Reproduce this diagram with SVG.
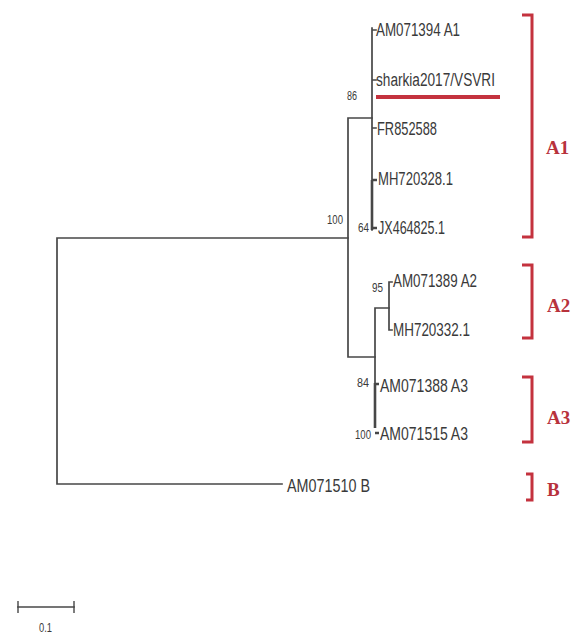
<svg xmlns="http://www.w3.org/2000/svg" width="572" height="636" viewBox="0 0 572 636">
<style>
.br{stroke:#474747;stroke-width:1.7;fill:none;stroke-linecap:square}
.bt{stroke:#474747;stroke-width:2.6;fill:none}
.lb{font-family:"Liberation Sans",Arial,sans-serif;font-size:18px;fill:#3a3a3a}
.bs{font-family:"Liberation Sans",Arial,sans-serif;font-size:13px;fill:#3a3a3a}
.rb{stroke:#c4323e;stroke-width:3;fill:none}
.rl{font-family:"Liberation Serif","Times New Roman",serif;font-size:19px;font-weight:bold;fill:#b8323c}
</style>
<rect width="572" height="636" fill="#ffffff"/>
<g id="connectors">
<path class="br" d="M57,238 V484 M57,238 H348 M57,484 H282"/>
<path class="br" d="M348,118 V357 M348,118 H372 M348,357 H375"/>
<path class="br" d="M372,28 V230 M372,30 H376 M372,80 H376 M372,128 H376"/>
<path class="bt" d="M372,180 V230 M372,180 H377 M372,228 H377"/>
<path class="br" d="M375,308 V405 M375,308 H389"/>
<path class="br" d="M389,282 V330 M389,282 H392 M389,330 H392"/>
<path class="bt" d="M375,383 V428 M375,384 H379 M375,433 H379"/>
</g>
<g id="support">
<text class="bs" x="347" y="100" textLength="10" lengthAdjust="spacingAndGlyphs">86</text>
<text class="bs" x="327" y="224" textLength="16" lengthAdjust="spacingAndGlyphs">100</text>
<text class="bs" x="358" y="232" textLength="11" lengthAdjust="spacingAndGlyphs">64</text>
<text class="bs" x="372" y="292" textLength="11" lengthAdjust="spacingAndGlyphs">95</text>
<text class="bs" x="357" y="387" textLength="12" lengthAdjust="spacingAndGlyphs">84</text>
<text class="bs" x="355" y="439" textLength="16" lengthAdjust="spacingAndGlyphs">100</text>
</g>
<g id="AM071394_A1"><text class="lb" x="376" y="36" textLength="84" lengthAdjust="spacingAndGlyphs">AM071394 A1</text></g>
<g id="sharkia2017"><text class="lb" x="376" y="86" textLength="119" lengthAdjust="spacingAndGlyphs">sharkia2017/VSVRI</text>
<line x1="376" y1="97" x2="500" y2="97" stroke="#c4323e" stroke-width="4"/></g>
<g id="FR852588"><text class="lb" x="377" y="135" textLength="60" lengthAdjust="spacingAndGlyphs">FR852588</text></g>
<g id="MH720328"><text class="lb" x="378" y="185" textLength="75" lengthAdjust="spacingAndGlyphs">MH720328.1</text></g>
<g id="JX464825"><text class="lb" x="378" y="234" textLength="67" lengthAdjust="spacingAndGlyphs">JX464825.1</text></g>
<g id="AM071389_A2"><text class="lb" x="393" y="287" textLength="84" lengthAdjust="spacingAndGlyphs">AM071389 A2</text></g>
<g id="MH720332"><text class="lb" x="393" y="336" textLength="77" lengthAdjust="spacingAndGlyphs">MH720332.1</text></g>
<g id="AM071388_A3"><text class="lb" x="380" y="392" textLength="88" lengthAdjust="spacingAndGlyphs">AM071388 A3</text></g>
<g id="AM071515_A3"><text class="lb" x="380" y="440" textLength="88" lengthAdjust="spacingAndGlyphs">AM071515 A3</text></g>
<g id="AM071510_B"><text class="lb" x="287" y="492" textLength="83" lengthAdjust="spacingAndGlyphs">AM071510 B</text></g>
<g id="clade_A1"><path class="rb" d="M522,15 H532 V237 H522"/><text class="rl" x="546" y="154">A1</text></g>
<g id="clade_A2"><path class="rb" d="M522,265 H532 V338 H522"/><text class="rl" x="547" y="312">A2</text></g>
<g id="clade_A3"><path class="rb" d="M522,377 H532 V442 H522"/><text class="rl" x="547" y="424">A3</text></g>
<g id="clade_B"><path class="rb" d="M526,474 H532 V500 H526"/><text class="rl" x="547" y="496">B</text></g>
<g id="scale">
<path class="br" d="M18,607 H74"/>
<path stroke="#474747" stroke-width="1.4" d="M18,601 V613 M74,601 V613"/>
<text class="bs" x="39" y="632" font-size="11" textLength="13" lengthAdjust="spacingAndGlyphs">0.1</text>
</g>
</svg>
